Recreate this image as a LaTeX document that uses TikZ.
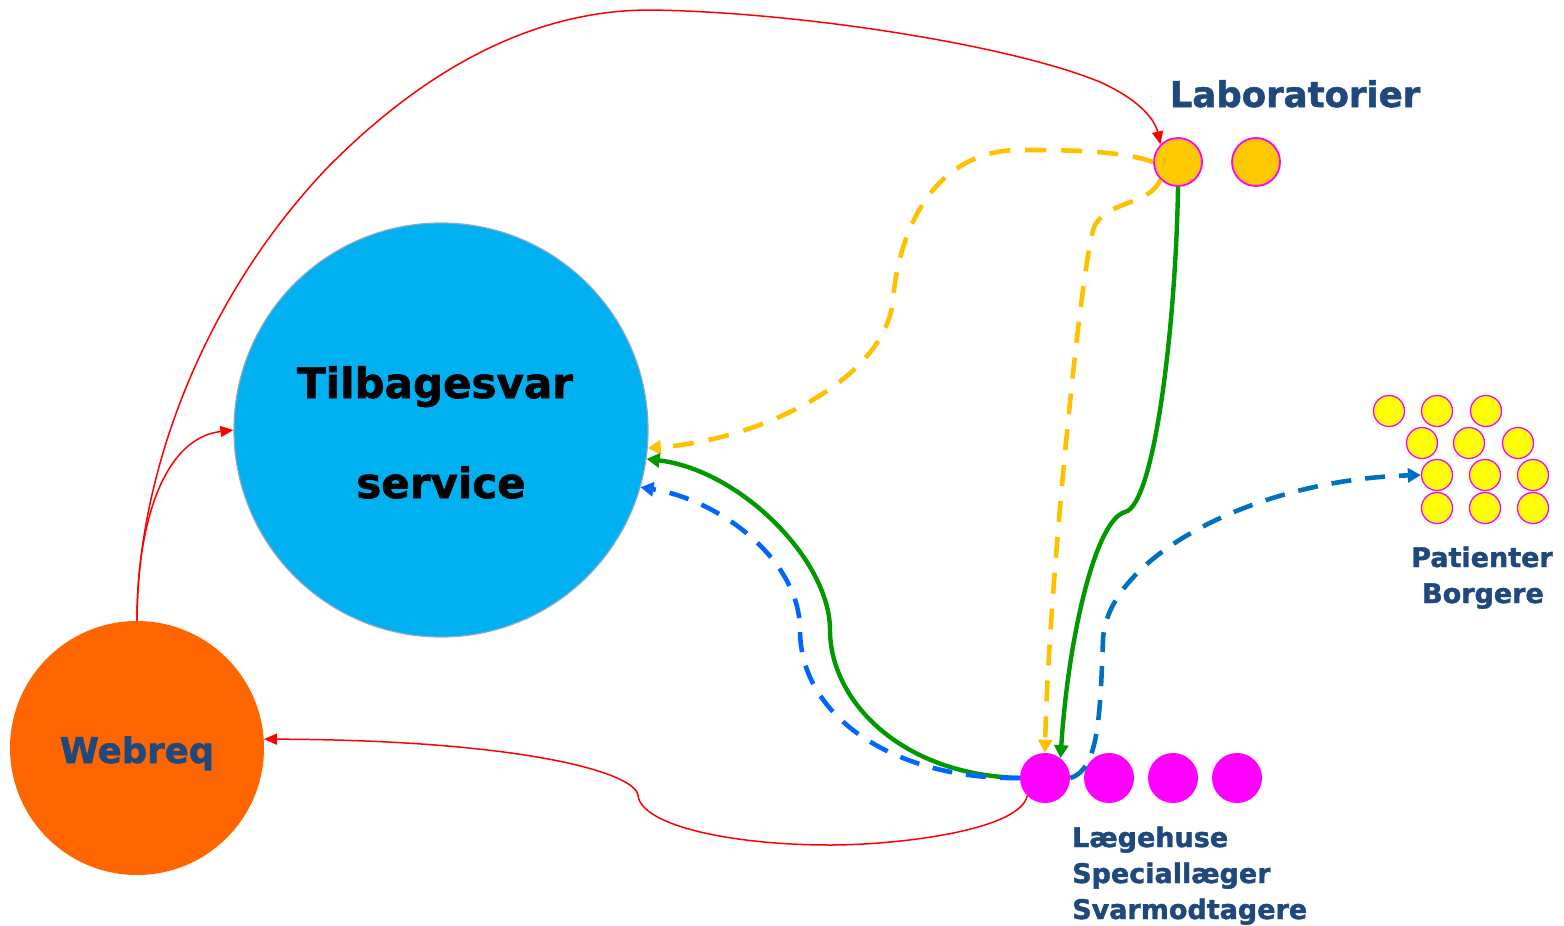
\documentclass[tikz,border=0pt]{standalone}
\usepackage{fontspec}
\setmainfont{DejaVu Sans}[BoldFeatures={FakeBold=1.5}]
\usetikzlibrary{arrows.meta}
\definecolor{txtblue}{HTML}{1F497D}
\definecolor{svc}{HTML}{00B0F0}
\definecolor{svcborder}{HTML}{8EA9C8}
\definecolor{webor}{HTML}{FF6600}
\definecolor{labyel}{HTML}{FFC000}
\definecolor{labfill}{HTML}{FFC900}
\definecolor{mag}{HTML}{FF00FF}
\definecolor{patyel}{HTML}{FFFF00}
\definecolor{grn}{HTML}{009900}
\definecolor{blueA}{HTML}{0066FF}
\definecolor{blueB}{HTML}{0070C0}
\definecolor{rd}{HTML}{FF0000}
\tikzset{
  labdot/.style={circle, fill=labfill, draw=mag, line width=1.8pt, minimum size=48pt, inner sep=0pt},
  gpdot/.style={circle, fill=mag, draw=none, minimum size=50pt, inner sep=0pt},
  patdot/.style={circle, fill=patyel, draw=mag, line width=1.3pt, minimum size=31pt, inner sep=0pt},
  lbl/.style={font=\bfseries\fontsize{27}{36}\selectfont, text=txtblue, inner sep=0pt},
  redline/.style={draw=rd, line width=1.5pt, -{Triangle[length=13pt,width=11pt]}},
  yelline/.style={draw=labyel, line width=4.6pt, dash pattern=on 21pt off 15pt, -{Triangle[length=13pt,width=14pt]}},
  grnline/.style={draw=grn, line width=4.4pt, -{Triangle[length=13pt,width=14pt]}},
  bluline/.style={line width=4.6pt, dash pattern=on 20pt off 14pt, -{Triangle[length=13pt,width=14pt]}}
}
\begin{document}
\begin{tikzpicture}[x=1pt,y=-1pt]
\useasboundingbox (0,0) rectangle (1564,926);

% main circles
\node[circle, fill=svc, draw=svcborder, line width=1.2pt, minimum size=414pt, inner sep=0pt] (tb) at (441,430) {};
\node[font=\bfseries\fontsize{42}{50}\selectfont, anchor=base, inner sep=0pt] (tbt) at (435,398) {Tilbagesvar};
\node[font=\bfseries\fontsize{42}{50}\selectfont, anchor=base, inner sep=0pt] (tbs) at (441,498) {service};

\node[circle, fill=webor, draw=none, minimum size=254pt, inner sep=0pt] (web) at (137,748) {};
\node[font=\bfseries\fontsize{35.5}{40}\selectfont, text=txtblue, anchor=base, inner sep=0pt] (webt) at (137,763) {Webreq};

% laboratories
\node[labdot] (lab1) at (1178,162) {};
\node[labdot] (lab2) at (1256,162) {};
\node[font=\bfseries\fontsize{35.5}{40}\selectfont, text=txtblue, anchor=base, inner sep=0pt] (labt) at (1295,107) {Laboratorier};

% general practitioners
\node[gpdot] (lg1) at (1045,778) {};
\node[gpdot] (lg2) at (1109,778) {};
\node[gpdot] (lg3) at (1173,778) {};
\node[gpdot] (lg4) at (1237,778) {};
\node[lbl, anchor=base west, align=left] (lgt1) at (1072,847) {Lægehuse};
\node[lbl, anchor=base west, align=left] (lgt2) at (1072,883) {Speciallæger};
\node[lbl, anchor=base west, align=left] (lgt3) at (1072,919) {Svarmodtagere};

% patients
\node[patdot] (p11) at (1389,411) {};
\node[patdot] (p12) at (1437,411) {};
\node[patdot] (p13) at (1486,411) {};
\node[patdot] (p21) at (1422,443) {};
\node[patdot] (p22) at (1469,443) {};
\node[patdot] (p23) at (1518,443) {};
\node[patdot] (p31) at (1437,475) {};
\node[patdot] (p32) at (1485,475) {};
\node[patdot] (p33) at (1533,475) {};
\node[patdot] (p41) at (1437,508) {};
\node[patdot] (p42) at (1485,508) {};
\node[patdot] (p43) at (1533,508) {};
\node[lbl, anchor=base] (pt1) at (1482,567) {Patienter};
\node[lbl, anchor=base] (pt2) at (1483,603) {Borgere};

% red connectors
\draw[redline] (web.north) .. controls (137,480) and (200,300) .. (330,165)
  .. controls (450,45) and (560,10) .. (650,10)
  .. controls (800,12) and (1010,45) .. (1100,82)
  .. controls (1140,100) and (1155,120) .. (lab1.north west);
\draw[redline] (web.north) .. controls (137,520) and (165,438) .. (tb.west);
\draw[redline] (lg1.south west) .. controls (1020,830) and (900,845) .. (830,845)
  .. controls (730,845) and (640,825) .. (638,795)
  .. controls (634,772) and (520,740) .. (web.4.5);

% yellow dashed
\draw[yelline] (lab1.west) .. controls (1120,150) and (1060,150) .. (1020,150)
  .. controls (940,150) and (900,220) .. (893,300)
  .. controls (885,380) and (760,440) .. (tb.-5);
\draw[yelline] (lab1.south west) .. controls (1150,205) and (1110,200) .. (1095,225)
  .. controls (1082,250) and (1048,600) .. (lg1.north);

% green
\draw[grnline] (lab1.south) .. controls (1176,320) and (1155,505) .. (1125,512)
  .. controls (1095,520) and (1068,640) .. (lg1.52);
\draw[grnline] (lg1.west) .. controls (900,775) and (830,700) .. (830,630)
  .. controls (830,560) and (740,470) .. (tb.-8);

% blue dashed
\draw[bluline, draw=blueA] (lg1.west) .. controls (900,780) and (800,720) .. (800,630)
  .. controls (800,560) and (720,500) .. (tb.-16);
\draw[bluline, draw=blueB] (lg1.east) .. controls (1098,770) and (1100,720) .. (1103,640)
  .. controls (1106,560) and (1250,480) .. (p31.west);
\end{tikzpicture}
\end{document}
